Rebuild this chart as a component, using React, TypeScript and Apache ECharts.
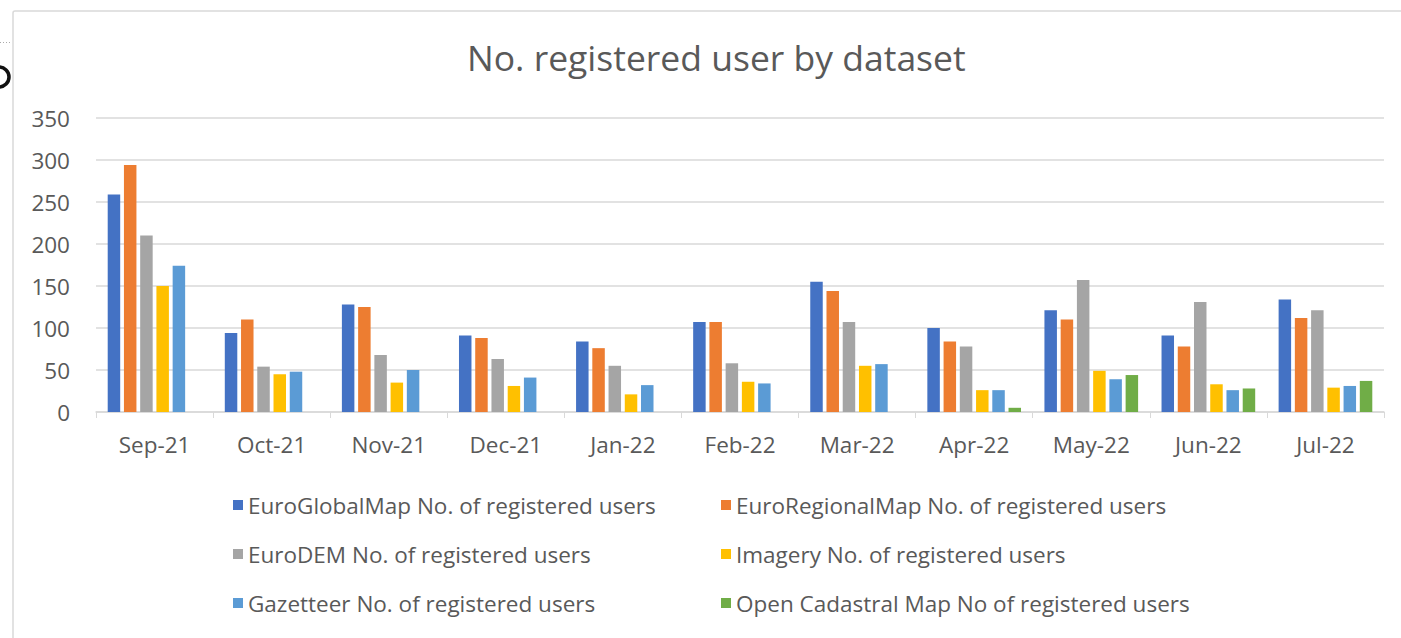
import React, { useEffect, useRef } from "react";
import * as echarts from "echarts";

const categories = ["Sep-21", "Oct-21", "Nov-21", "Dec-21", "Jan-22", "Feb-22", "Mar-22", "Apr-22", "May-22", "Jun-22", "Jul-22"];
const euroGlobalMap = [259, 94, 128, 91, 84, 107, 155, 100, 121, 91, 134];
const euroRegionalMap = [294, 110, 125, 88, 76, 107, 144, 84, 110, 78, 112];
const euroDEM = [210, 54, 68, 63, 55, 58, 107, 78, 157, 131, 121];
const imagery = [150, 45, 35, 31, 21, 36, 55, 26, 49, 33, 29];
const gazetteer = [174, 48, 50, 41, 32, 34, 57, 26, 39, 26, 31];
const openCadastral = [null, null, null, null, null, null, null, 5, 44, 28, 37];

const seriesNames = [
  "EuroGlobalMap No. of registered users",
  "EuroRegionalMap No. of registered users",
  "EuroDEM No. of registered users",
  "Imagery No. of registered users",
  "Gazetteer No. of registered users",
  "Open Cadastral Map No of registered users",
];
const seriesData = [euroGlobalMap, euroRegionalMap, euroDEM, imagery, gazetteer, openCadastral];
const colors = ["#4472C4", "#ED7D31", "#A5A5A5", "#FFC000", "#5B9BD5", "#70AD47"];

const FONT = "Open Sans";
const TEXT = "#595959";

export default function App() {
  const ref = useRef<HTMLDivElement>(null);
  useEffect(() => {
    const chart = echarts.init(ref.current!, undefined, { renderer: "svg" });
    const legendText = { color: TEXT, fontFamily: FONT, fontSize: 22.5, lineHeight: 24 };
    chart.setOption({
      animation: false,
      color: colors,
      title: {
        text: "No. registered user by dataset",
        left: 467,
        top: 39,
        padding: 0,
        textStyle: { color: TEXT, fontFamily: FONT, fontSize: 35.5, fontWeight: "normal" },
      },
      graphic: [
        {
          type: "rect",
          shape: { x: 13, y: 11, width: 1500, height: 800, r: 2 },
          style: { fill: "none", stroke: "#d9d9d9", lineWidth: 1.5 },
          silent: true,
        },
        {
          type: "line",
          shape: { x1: 0, y1: 42.5, x2: 12, y2: 42.5 },
          style: { stroke: "#aaaaaa", lineWidth: 1, lineDash: [1, 2] },
          silent: true,
        },
        {
          type: "arc",
          shape: { cx: -1, cy: 77, r: 10, startAngle: -Math.PI / 2, endAngle: Math.PI / 2 },
          style: { stroke: "#111", lineWidth: 3.5, fill: "none" },
          silent: true,
        },
      ],
      legend: [
        {
          orient: "vertical",
          left: 233,
          top: 493,
          padding: 0,
          itemWidth: 10,
          itemHeight: 10,
          itemGap: 25,
          icon: "rect",
          data: [seriesNames[0], seriesNames[2], seriesNames[4]],
          textStyle: legendText,
          selectedMode: false,
        },
        {
          orient: "vertical",
          left: 721,
          top: 493,
          padding: 0,
          itemWidth: 10,
          itemHeight: 10,
          itemGap: 25,
          icon: "rect",
          data: [seriesNames[1], seriesNames[3], seriesNames[5]],
          textStyle: legendText,
          selectedMode: false,
        },
      ],
      grid: { left: 96, right: 17, top: 118, bottom: 226, containLabel: false },
      xAxis: {
        type: "category",
        data: categories,
        axisLine: { lineStyle: { color: "#d9d9d9", width: 1.5 } },
        axisTick: { show: true, length: 6, lineStyle: { color: "#d9d9d9" } },
        axisLabel: { color: TEXT, fontFamily: FONT, fontSize: 22.5, margin: 21 },
      },
      yAxis: {
        type: "value",
        min: 0,
        max: 350,
        interval: 50,
        axisLine: { show: false },
        axisTick: { show: false },
        splitLine: { lineStyle: { color: "#d9d9d9", width: 1.5 } },
        axisLabel: { color: TEXT, fontFamily: FONT, fontSize: 22.5, margin: 26 },
      },
      series: seriesNames.map((name, i) => ({
        name,
        type: "bar",
        data: seriesData[i],
        barGap: "30%",
        barCategoryGap: "20%",
        itemStyle: { color: colors[i] },
      })),
    });
    return () => chart.dispose();
  }, []);
  return <div ref={ref} style={{ position: "absolute", left: 0, top: 0, width: 1401, height: 638, background: "#fff" }} />;
}
